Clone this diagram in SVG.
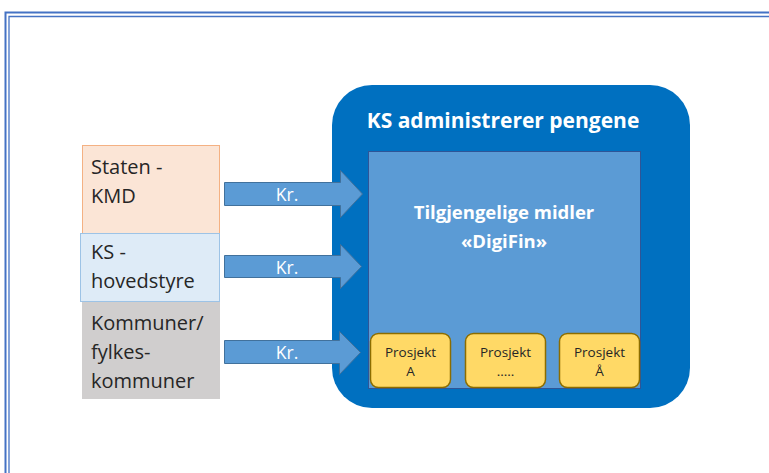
<svg xmlns="http://www.w3.org/2000/svg" width="769" height="473" viewBox="0 0 769 473">
<style>
.lbl{font-family:"Open Sans","Liberation Sans",sans-serif;font-size:20px;fill:#262626}
.kr{font-family:"Open Sans","Liberation Sans",sans-serif;font-size:17.5px;fill:#ffffff;text-anchor:middle}
.wt{font-family:"Open Sans","Liberation Sans",sans-serif;font-weight:bold;fill:#ffffff;text-anchor:middle}
.pj{font-family:"Open Sans","Liberation Sans",sans-serif;font-size:13.5px;fill:#262626;text-anchor:middle}
.prj{fill:#FFD966;stroke:#8C6D00;stroke-width:1.5}
.arr{fill:#5B9BD5;stroke:#41719C;stroke-width:1}
</style>
<rect x="0" y="0" width="769" height="473" fill="#ffffff"/>
<g id="border" fill="none" stroke="#4472C4">
<path d="M5.5 473 V12.5 H769" stroke-width="2"/>
<path d="M9 473 V16.5 H769" stroke-width="1.3"/>
</g>
<g id="ks">
<rect x="332" y="85" width="358" height="323" rx="40" fill="#0070C0"/>
<text class="wt" x="503" y="128" font-size="21">KS administrerer pengene</text>
</g>
<g id="midler">
<rect x="368.5" y="151.5" width="272" height="237" fill="#5B9BD5" stroke="#2F5597" stroke-width="1"/>
<text class="wt" x="504" y="219" font-size="18.5">Tilgjengelige midler</text>
<text class="wt" x="504" y="248" font-size="18.5">«DigiFin»</text>
</g>
<g id="prosjektA">
<rect class="prj" x="370.5" y="333.5" width="80" height="54" rx="8"/>
<text class="pj" x="410.5" y="357">Prosjekt</text>
<text class="pj" x="410.5" y="376">A</text>
</g>
<g id="prosjektMid">
<rect class="prj" x="465.5" y="333.5" width="80" height="54" rx="8"/>
<text class="pj" x="505.5" y="357">Prosjekt</text>
<text class="pj" x="505.5" y="376">.....</text>
</g>
<g id="prosjektAA">
<rect class="prj" x="559.5" y="333.5" width="80" height="54" rx="8"/>
<text class="pj" x="599.5" y="357">Prosjekt</text>
<text class="pj" x="599.5" y="376">Å</text>
</g>
<g id="staten">
<rect x="82.5" y="145.5" width="137" height="88" fill="#FBE5D6" stroke="#F4B183" stroke-width="1"/>
<text class="lbl" x="91" y="174">Staten -</text>
<text class="lbl" x="91" y="203">KMD</text>
</g>
<g id="kommuner">
<rect x="82" y="302" width="138" height="97" fill="#D0CECE"/>
<text class="lbl" x="91" y="330">Kommuner/</text>
<text class="lbl" x="91" y="359">fylkes-</text>
<text class="lbl" x="91" y="388">kommuner</text>
</g>
<g id="hovedstyre">
<rect x="80.5" y="233.5" width="139" height="68" fill="#DEEBF7" stroke="#9DC3E6" stroke-width="1"/>
<text class="lbl" x="91" y="259">KS -</text>
<text class="lbl" x="91" y="288">hovedstyre</text>
</g>
<g id="connectors">
<path class="arr" d="M224.5 182.5 H340.5 V170.5 L362.5 194 L340.5 217.5 V205.5 H224.5 Z"/>
<path class="arr" d="M224.5 255.5 H340.5 V244.5 L361.5 266.5 L340.5 288.5 V277.5 H224.5 Z"/>
<path class="arr" d="M224.5 340.5 H339.5 V331.5 L360.5 352.5 L339.5 374.5 V363.5 H224.5 Z"/>
<text class="kr" x="287" y="201">Kr.</text>
<text class="kr" x="287" y="274">Kr.</text>
<text class="kr" x="287" y="359">Kr.</text>
</g>
</svg>
